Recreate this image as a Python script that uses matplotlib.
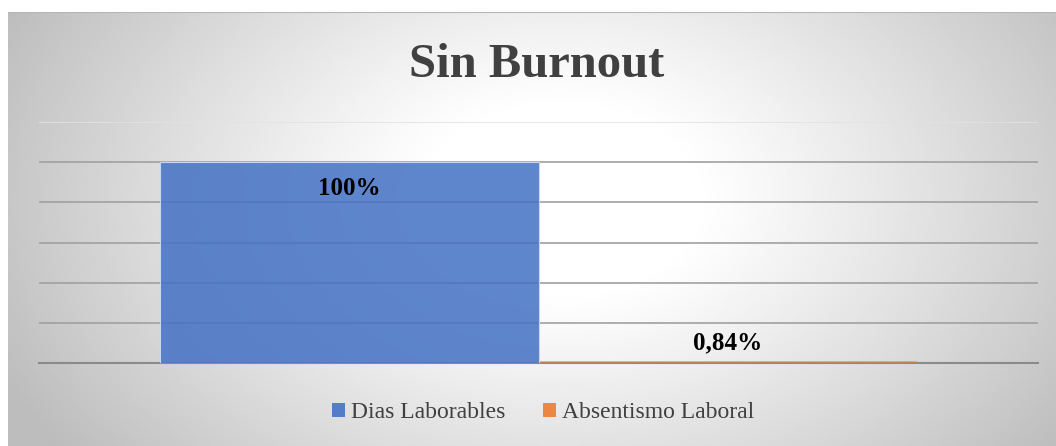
import numpy as np
import matplotlib
matplotlib.use('Agg')
import matplotlib.pyplot as plt

# ── Data ─────────────────────────────────────────────────────────
title = 'Sin Burnout'
series = ['Dias Laborables', 'Absentismo Laboral']
values = [100, 0.84]
labels = ['100%', '0,84%']
colors = ['#4472C4', '#ED7D31']
yticks = [0, 20, 40, 60, 80, 100, 120]

W, H = 1056, 446
fig = plt.figure(figsize=(W / 100, H / 100), dpi=100)
fig.patch.set_facecolor('white')

# ── Radial gradient background (chart area) ─────────────────────
bg = fig.add_axes([8 / W, 0, 1 - 8 / W, (H - 12) / H])
gx, gy = np.meshgrid(np.linspace(8, W, 400), np.linspace(12, H, 200))
r = np.sqrt(((gx - 560) / 620) ** 2 + ((gy - 200) / 420) ** 2)
v = 1 - 0.26 * np.clip((r - 0.22) / 0.78, 0, 1) ** 1.1
bg.imshow(v, cmap='gray', vmin=0, vmax=1, aspect='auto',
          extent=[0, 1, 0, 1], interpolation='bilinear')
bg.set_xlim(0, 1)
bg.set_ylim(0, 1)
bg.axis('off')
bg.axhline(1, color='#B5B5B5', lw=1.5)

# ── Main axes ────────────────────────────────────────────────────
x0, x1, y_top, y_bot = 39, 1038, 122, 363
ax = fig.add_axes([x0 / W, (H - y_bot) / H, (x1 - x0) / W, (y_bot - y_top) / H])
ax.patch.set_alpha(0)

pos = [-0.5, 0.5]
bar_alpha = [0.86, 0.55]
for p, val, c, a, lab in zip(pos, values, colors, bar_alpha, series):
    ax.bar(p, val, width=1.0, color=c, alpha=a, edgecolor='none',
           linewidth=0, zorder=3, label=lab)
# light outline on the tall bar
ax.bar(pos[0], values[0], width=1.0, fill=False, edgecolor='#C9D5EE',
       linewidth=0.8, zorder=3)

ax.set_xlim(-1.32, 1.32)
ax.set_ylim(0, 120)
ax.set_yticks(yticks)
ax.yaxis.grid(True, color='#A0A0A0', lw=1.2, zorder=1)
ax.get_ygridlines()[-1].set_color('#E2E2E2')
ax.get_ygridlines()[0].set_visible(False)
ax.set_xticks([])
ax.tick_params(left=False, labelleft=False)
for s in ['top', 'right', 'left']:
    ax.spines[s].set_visible(False)
ax.spines['bottom'].set_color('#8A8A8A')
ax.spines['bottom'].set_linewidth(1.5)
ax.spines['bottom'].set_zorder(2)

# data labels
ax.annotate(labels[0], (pos[0], values[0]), xytext=(0, -19), textcoords='offset points',
            ha='center', va='center', fontsize=18, fontweight='bold',
            family='Liberation Serif', color='black', zorder=5)
ax.annotate(labels[1], (pos[1], values[1]), xytext=(0, 13), textcoords='offset points',
            ha='center', va='center', fontsize=18, fontweight='bold',
            family='Liberation Serif', color='black', zorder=5)

# title
fig.text(537 / W, 1 - 65 / H, title, ha='center', va='center', fontsize=35,
         fontweight='bold', family='Liberation Serif', color='#404040')

# legend
leg = fig.legend(loc='center', bbox_to_anchor=(543 / W, 1 - 413 / H), ncol=2,
                 frameon=False, prop={'family': 'Liberation Serif', 'size': 17},
                 handlelength=0.55, handleheight=0.55, handletextpad=0.25,
                 columnspacing=1.6)
for t in leg.get_texts():
    t.set_color('#404040')
for h in leg.legend_handles:
    h.set_alpha(0.9)
    h.set_edgecolor('none')

fig.savefig('out.png', dpi=100)
